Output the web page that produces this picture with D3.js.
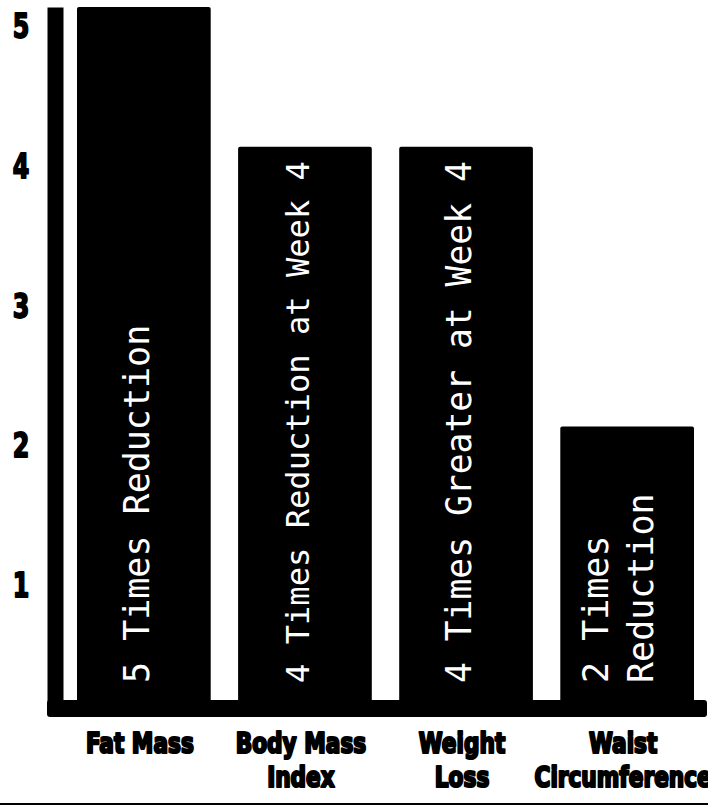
<!DOCTYPE html>
<html>
<head>
<meta charset="utf-8">
<script src="https://cdn.jsdelivr.net/npm/d3@7"></script>
<style>
  html, body { margin: 0; padding: 0; background: #fff; }
  svg { display: block; }
</style>
</head>
<body>
<svg id="chart" width="708" height="807"></svg>
<script>
// Ratios of improvement versus the comparison group
const categories = [["Fat Mass"], ["Body Mass", "Index"], ["Weight", "Loss"], ["Waist", "Circumference"]];
const values = [5, 4, 4, 2];
const barLabels = [
  ["5 Times Reduction"],
  ["4 Times Reduction at Week 4"],
  ["4 Times Greater at Week 4"],
  ["2 Times", "Reduction"]
];
const tickValues = [1, 2, 3, 4, 5];

const svg = d3.select("#chart");
const W = 708, H = 807;
const heavy = "'Liberation Sans Narrow', 'DejaVu Sans Condensed', 'DejaVu Sans', sans-serif";

svg.append("rect").attr("width", W).attr("height", H).attr("fill", "#fff");

const x = d3.scaleBand()
  .domain(d3.range(values.length))
  .range([77, 694])
  .paddingInner(0.17)
  .paddingOuter(0);

const y = d3.scaleLinear().domain([0, 5]).range([706, 7]);

// Bars
svg.append("g").selectAll("rect")
  .data(values)
  .join("rect")
  .attr("x", (d, i) => x(i))
  .attr("y", d => y(d))
  .attr("width", x.bandwidth())
  .attr("height", d => y(0) - y(d) + 4)
  .attr("rx", 2)
  .attr("fill", "#000");

// Heavy baseline
svg.append("rect")
  .attr("x", 47).attr("y", y(0) - 6)
  .attr("width", 707 - 47).attr("height", 17)
  .attr("rx", 3)
  .attr("fill", "#000");

// Left axis: thick domain line with bold numerals
const axis = svg.append("g")
  .attr("transform", "translate(55,0)")
  .call(d3.axisLeft(y).tickValues(tickValues).tickSize(0).tickSizeOuter(0).tickPadding(0).tickFormat(d3.format("d")));

axis.select(".domain")
  .attr("stroke", "#000")
  .attr("stroke-width", 16);

axis.selectAll(".tick text")
  .attr("x", 0)
  .attr("text-anchor", "middle")
  .attr("transform", "translate(-34,20) scale(0.8,1)")
  .attr("font-family", heavy)
  .attr("font-weight", "bold")
  .attr("font-size", 33)
  .attr("fill", "#000")
  .attr("stroke", "#000")
  .attr("stroke-width", 1.8)
  .attr("stroke-linejoin", "round");

// Vertical white labels inside the bars
const mono = "'DejaVu Sans Mono', 'Liberation Mono', monospace";
const labelG = svg.append("g");
barLabels.forEach((lines, i) => {
  const maxChars = d3.max(lines, s => s.length);
  const fs = Math.min(35, 522 / (maxChars * 0.602));
  const cx = x(i) + x.bandwidth() / 2;
  const n = lines.length;
  lines.forEach((line, j) => {
    const base = cx + 0.365 * fs - 7.5 + (j - (n - 1) / 2) * 45 - (n > 1 ? 2 : 0);
    labelG.append("text")
      .attr("transform", `translate(${base},683) rotate(-90)`)
      .attr("font-family", mono)
      .attr("font-size", fs)
      .attr("fill", "#fff")
      .attr("text-anchor", "start")
      .text(line);
  });
});

// Category labels under the baseline, set in a compressed heavy face
const catG = svg.append("g");
categories.forEach((lines, i) => {
  const cx = x(i) + x.bandwidth() / 2;
  lines.forEach((line, j) => {
    catG.append("text")
      .attr("transform", `translate(${cx - 4},${753 + j * 34}) scale(0.86,1)`)
      .attr("text-anchor", "middle")
      .attr("font-family", heavy)
      .attr("font-weight", "bold")
      .attr("font-size", 28)
      .attr("fill", "#000")
      .attr("stroke", "#000")
      .attr("stroke-width", 2.2)
      .attr("stroke-linejoin", "round")
      .text(line);
  });
});

// Bottom rule
svg.append("line")
  .attr("x1", 0).attr("x2", W)
  .attr("y1", 804).attr("y2", 804)
  .attr("stroke", "#000")
  .attr("stroke-width", 2);
</script>
</body>
</html>
